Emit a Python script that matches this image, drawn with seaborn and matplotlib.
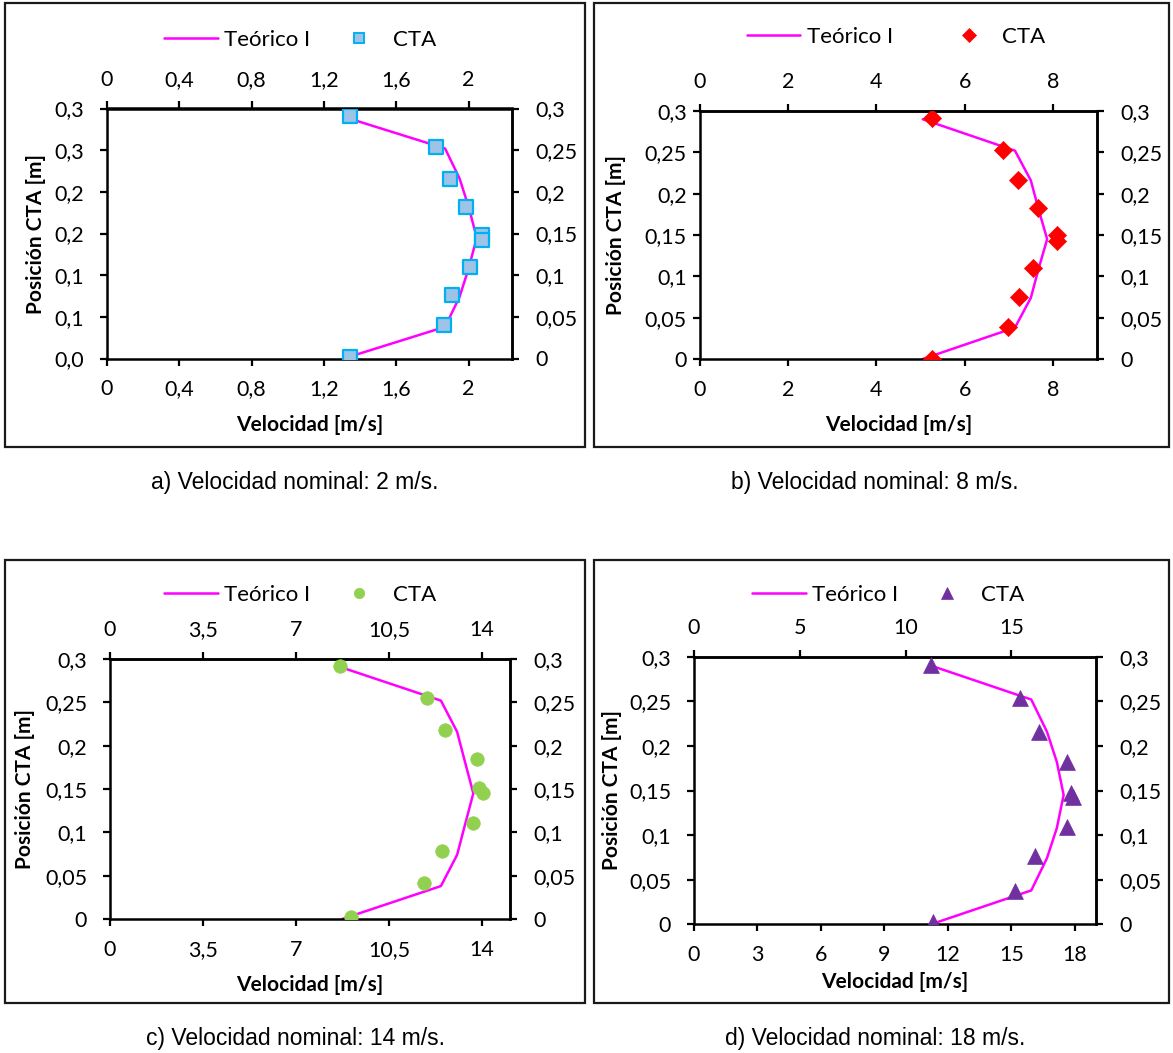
import numpy as np
import pandas as pd
import matplotlib
matplotlib.use("Agg")
import matplotlib.pyplot as plt
import seaborn as sns
from matplotlib.ticker import FuncFormatter
from matplotlib.patches import Rectangle
from matplotlib.lines import Line2D

sns.set_theme(style="ticks")
plt.rcParams["font.family"] = ["Lato", "DejaVu Sans"]
plt.rcParams["axes.edgecolor"] = "black"
plt.rcParams["text.color"] = "black"
plt.rcParams["xtick.color"] = "black"
plt.rcParams["ytick.color"] = "black"

# ---------------- data ----------------
y_teo = [0.0, 0.038, 0.074, 0.108, 0.145, 0.182, 0.216, 0.252, 0.290]
teo_a = [1.31, 1.87, 1.95, 2.00, 2.045, 2.00, 1.95, 1.87, 1.31]
teo_b = [5.05, 7.14, 7.50, 7.67, 7.87, 7.67, 7.50, 7.14, 5.05]
teo_c = [8.74, 12.45, 13.06, 13.35, 13.67, 13.35, 13.06, 12.45, 8.74]
teo_d = [11.2, 15.94, 16.68, 17.15, 17.47, 17.15, 16.68, 15.94, 11.2]

cta_a_x = [1.342, 1.821, 1.897, 1.987, 2.076, 2.076, 2.009, 1.910, 1.865, 1.342]
cta_a_y = [0.2907, 0.254, 0.2157, 0.182, 0.1486, 0.142, 0.1096, 0.0759, 0.0398, 0.0016]
cta_b_x = [5.26, 6.88, 7.20, 7.66, 8.09, 8.09, 7.56, 7.24, 6.98, 5.26]
cta_b_y = [0.291, 0.2527, 0.2163, 0.1827, 0.1494, 0.1426, 0.1098, 0.0753, 0.0389, 0.0004]
cta_c_x = [8.65, 11.91, 12.59, 13.80, 13.87, 14.04, 13.64, 12.51, 11.82, 9.06]
cta_c_y = [0.292, 0.2545, 0.2178, 0.185, 0.151, 0.1456, 0.1109, 0.0788, 0.0413, 0.0023]
cta_d_x = [11.20, 15.39, 16.32, 17.65, 17.84, 17.93, 17.65, 16.14, 15.18, 11.29]
cta_d_y = [0.2907, 0.2533, 0.2152, 0.1816, 0.1468, 0.143, 0.1094, 0.0769, 0.0377, 0.0022]

y_ticks = [0, 0.05, 0.1, 0.15, 0.2, 0.25, 0.3]
a_left_labels = ["0,0", "0,1", "0,1", "0,2", "0,2", "0,3", "0,3"]

xt_a = [0, 0.4, 0.8, 1.2, 1.6, 2.0]
xt_b = [0, 2, 4, 6, 8]
xt_c = [0, 3.5, 7, 10.5, 14]
xt_d_bottom = [0, 3, 6, 9, 12, 15, 18]
xt_d_top = [0, 5, 10, 15]
xmax = [2.24, 9, 15.05, 19]

captions = ["a) Velocidad nominal: 2 m/s.", "b) Velocidad nominal: 8 m/s.",
            "c) Velocidad nominal: 14 m/s.", "d) Velocidad nominal: 18 m/s."]
legend_labels = ["Teórico I", "CTA"]
xlabel = "Velocidad [m/s]"
ylabel = "Posición CTA [m]"

# ---------------- layout ----------------
W, H = 1173, 1053
DPI = 100
fig = plt.figure(figsize=(W / DPI, H / DPI), dpi=DPI)
fig.patch.set_facecolor("white")

LINE_C = "#FF00FF"

panels = [
    dict(teo=teo_a, cx=cta_a_x, cy=cta_a_y, xt=xt_a, xtt=xt_a, xmax=xmax[0],
         box=(5, 3, 585, 447), ax=(107, 108.5, 512, 358.5),
         marker="s", face="#9DC3E6", edge="#00B0F0", s=90, lw=1.6,
         leg=(300, 40), colsp=1.0, ylab_x=36, xlab_y=425, cap=(295, 482),
         lpad=11.5, left_labels=a_left_labels),
    dict(teo=teo_b, cx=cta_b_x, cy=cta_b_y, xt=xt_b, xtt=xt_b, xmax=xmax[1],
         box=(594, 3, 1169, 447), ax=(700, 111, 1097, 359),
         marker="D", face="#FF0000", edge="#FF0000", s=85, lw=0.5,
         leg=(896, 37), colsp=2.2, ylab_x=616, xlab_y=425, cap=(875, 482),
         lpad=4.5, left_labels=None),
    dict(teo=teo_c, cx=cta_c_x, cy=cta_c_y, xt=xt_c, xtt=xt_c, xmax=xmax[2],
         box=(5, 560, 585, 1003), ax=(110, 659, 510, 919),
         marker="o", face="#92D050", edge="#92D050", s=95, lw=0.5,
         leg=(300, 595), colsp=1.0, ylab_x=25, xlab_y=985, cap=(295, 1038),
         lpad=11.5, left_labels=None),
    dict(teo=teo_d, cx=cta_d_x, cy=cta_d_y, xt=xt_d_bottom, xtt=xt_d_top, xmax=xmax[3],
         box=(594, 560, 1169, 1003), ax=(694, 656.7, 1096, 924.3),
         marker="^", face="#7030A0", edge="#7030A0", s=130, lw=0.5,
         leg=(888, 595), colsp=1.0, ylab_x=612, xlab_y=982, cap=(875, 1038),
         lpad=11.5, left_labels=None),
]


def fmt_num(v, pos=None):
    s = f"{v:g}"
    return s.replace(".", ",")


TICK_FS = 15.5
LEG_FS = 16
LAB_FS = 15
SPINE_W = 1.8

for i, p in enumerate(panels):
    # panel frame
    x1, y1, x2, y2 = p["box"]
    fig.add_artist(Rectangle((x1 / W, 1 - y2 / H), (x2 - x1) / W, (y2 - y1) / H,
                             transform=fig.transFigure, fill=False,
                             ec="#1a1a1a", lw=1.6))
    l, t, r, b = p["ax"]
    ax = fig.add_axes([l / W, 1 - b / H, (r - l) / W, (b - t) / H])
    ax.set_facecolor("white")

    df_t = pd.DataFrame({"v": p["teo"], "y": y_teo})
    sns.lineplot(data=df_t, x="v", y="y", sort=False, estimator=None,
                 color=LINE_C, lw=1.8, ax=ax, label=legend_labels[0], zorder=2)
    df_c = pd.DataFrame({"v": p["cx"], "y": p["cy"]})
    sns.scatterplot(data=df_c, x="v", y="y", marker=p["marker"], s=p["s"],
                    color=p["face"], edgecolor=p["edge"], linewidth=p["lw"],
                    ax=ax, label=legend_labels[1], zorder=3)

    ax.set_xlim(0, p["xmax"])
    ax.set_ylim(0, 0.3)
    ax.set_xticks(p["xt"])
    ax.xaxis.set_major_formatter(FuncFormatter(fmt_num))
    ax.set_yticks(y_ticks)
    if p["left_labels"] is not None:
        ax.set_yticklabels(p["left_labels"])
    else:
        ax.yaxis.set_major_formatter(FuncFormatter(fmt_num))
    ax.set_xlabel("")
    ax.set_ylabel("")
    for sp in ax.spines.values():
        sp.set_visible(True)
        sp.set_linewidth(SPINE_W)
        sp.set_color("black")
    ax.tick_params(axis="x", direction="out", length=5, width=1.6,
                   labelsize=TICK_FS, pad=10, bottom=True, top=False)
    ax.tick_params(axis="y", direction="out", length=5, width=1.6,
                   labelsize=TICK_FS, pad=p["lpad"], left=True, right=False)

    secx = ax.secondary_xaxis("top")
    secx.set_xticks(p["xtt"])
    secx.xaxis.set_major_formatter(FuncFormatter(fmt_num))
    secx.tick_params(direction="out", length=5, width=1.6, labelsize=TICK_FS, pad=8.5)
    secx.spines["top"].set_linewidth(SPINE_W)

    secy = ax.secondary_yaxis("right")
    secy.set_yticks(y_ticks)
    secy.yaxis.set_major_formatter(FuncFormatter(fmt_num))
    secy.tick_params(direction="out", length=5, width=1.6, labelsize=TICK_FS, pad=11.5)
    secy.spines["right"].set_linewidth(SPINE_W)

    # legend
    handles = [Line2D([], [], color=LINE_C, lw=1.8),
               Line2D([], [], ls="none", marker=p["marker"],
                      markersize=8.5 if p["marker"] == "^" else 7.5,
                      markerfacecolor=p["face"], markeredgecolor=p["edge"],
                      markeredgewidth=1.4 if p["marker"] == "s" else 0.5)]
    ax.legend(handles, legend_labels, loc="center",
              bbox_to_anchor=(p["leg"][0] / W, 1 - p["leg"][1] / H),
              bbox_transform=fig.transFigure, ncol=2, frameon=False,
              fontsize=LEG_FS, handlelength=2.4, handletextpad=0.3,
              columnspacing=p["colsp"], borderpad=0, borderaxespad=0)

    # axis titles
    fig.text(p["ylab_x"] / W, 1 - ((t + b) / 2) / H, ylabel, rotation=90,
             ha="center", va="center", fontsize=LAB_FS, fontweight="bold")
    fig.text(((l + r) / 2) / W, 1 - p["xlab_y"] / H, xlabel,
             ha="center", va="center", fontsize=LAB_FS, fontweight="bold")
    # caption
    fig.text(p["cap"][0] / W, 1 - p["cap"][1] / H, captions[i],
             ha="center", va="center", fontsize=16.5,
             fontfamily="Liberation Sans")

fig.savefig("out.png", dpi=DPI, facecolor="white")
